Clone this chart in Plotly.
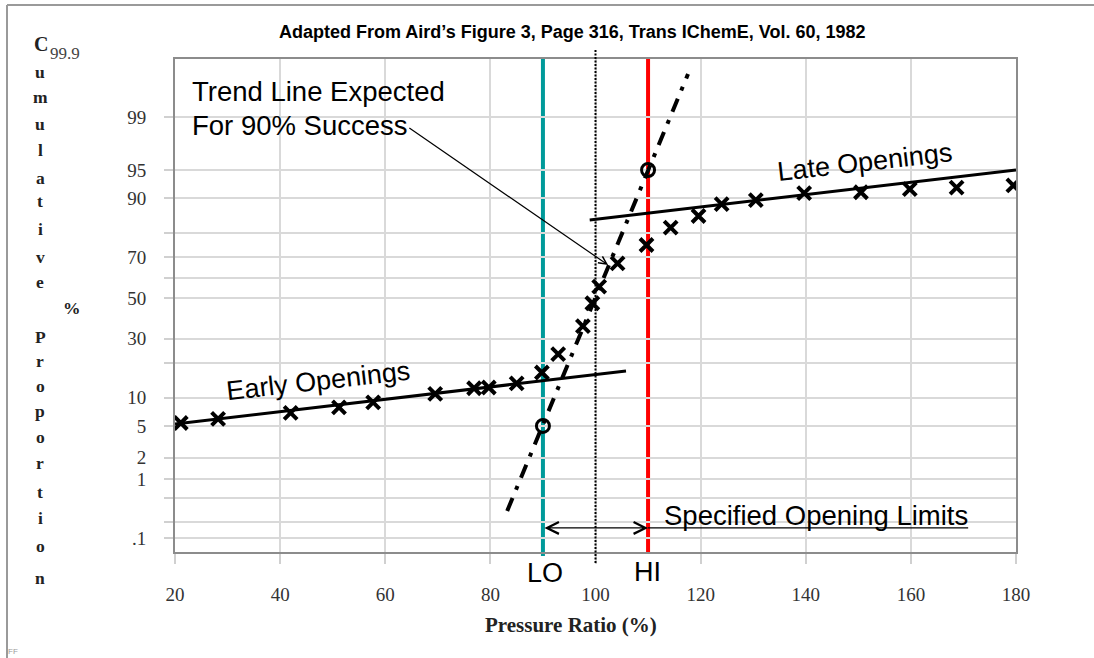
import plotly.graph_objects as go
from statistics import NormalDist

_nd = NormalDist()


def z(p):
    return _nd.inv_cdf(p / 100.0)


# ---------------- data ----------------
open_x = [21.1, 28.2, 42.0, 51.2, 57.7, 69.5, 76.9, 79.7, 85.0, 89.8,
          92.9, 97.6, 99.4, 100.7, 104.2, 109.7,
          114.3, 119.6, 124.0, 130.5, 139.7, 150.5, 159.8, 168.7, 179.5]
open_p = [5.4, 6.0, 7.0, 8.0, 9.0, 10.9, 12.3, 12.5, 13.6, 16.9,
          23.5, 35.9, 47.3, 55.8, 67.2, 75.2,
          81.7, 85.4, 88.6, 89.6, 91.1, 91.3, 91.9, 92.2, 92.6]

limit_x = [90, 110]          # LO / HI circles
limit_p = [5, 95]

early_fit_x = [20, 105.8]
early_fit_p = [5.27, 17.4]
late_fit_x = [98.9, 180]
late_fit_p = [84.2, 95.0]
trend_x = [83.2, 117.6]
trend_p = [0.31, 99.80]

LO, HI, NOMINAL = 90, 110, 100

x_ticks = [20, 40, 60, 80, 100, 120, 140, 160, 180]
y_grid_p = [99, 95, 90, 80, 70, 60, 50, 30, 20, 10, 5, 2, 1, 0.5, 0.2, 0.1]
y_grid_labels = ["99", "95", "90", "", "70", "", "50", "30", "", "10", "5", "2", "1", "", "", ".1"]

# ---------------- layout helpers ----------------
W, H = 1094, 658
L, R, T, B = 175, 1016, 59, 552


def px(xp):
    return (xp - L) / (R - L)


def py(yp):
    return (B - yp) / (B - T)


SERIF = "Liberation Serif"
SANS = "Liberation Sans"

fig = go.Figure()

# fit lines
fig.add_trace(go.Scatter(x=early_fit_x, y=[z(p) for p in early_fit_p], mode="lines",
                         line=dict(color="black", width=3), hoverinfo="skip", showlegend=False))
fig.add_trace(go.Scatter(x=late_fit_x, y=[z(p) for p in late_fit_p], mode="lines",
                         line=dict(color="black", width=3), hoverinfo="skip", showlegend=False))
fig.add_trace(go.Scatter(x=trend_x, y=[z(p) for p in trend_p], mode="lines",
                         line=dict(color="black", width=4, dash="14px,9px,4px,9px"),
                         hoverinfo="skip", showlegend=False))
# data marks
fig.add_trace(go.Scatter(x=open_x, y=[z(p) for p in open_p], mode="markers",
                         marker=dict(symbol="x-thin", size=13, color="black",
                                     line=dict(color="black", width=4)),
                         showlegend=False))
fig.add_trace(go.Scatter(x=limit_x, y=[z(p) for p in limit_p], mode="markers",
                         marker=dict(symbol="circle-open", size=13, color="black",
                                     line=dict(color="black", width=3)),
                         showlegend=False))

shapes = [
    dict(type="line", xref="x", yref="paper", x0=LO, x1=LO, y0=py(556), y1=1.0,
         line=dict(color="#009A9A", width=4), layer="between"),
    dict(type="line", xref="x", yref="paper", x0=HI, x1=HI, y0=0, y1=py(57),
         line=dict(color="#FF0000", width=4), layer="between"),
    dict(type="line", xref="x", yref="paper", x0=NOMINAL, x1=NOMINAL, y0=py(563), y1=py(49),
         line=dict(color="black", width=2, dash="2px,1.5px"), layer="above"),
    # underline of "Specified Opening Limits"
    dict(type="line", xref="x", yref="y", x0=HI, x1=170.9, y0=z(0.156), y1=z(0.156),
         line=dict(color="black", width=1.3)),
    # outer frame
    dict(type="line", xref="paper", yref="paper", x0=px(7), x1=px(1094), y0=py(5), y1=py(5),
         line=dict(color="#9a9a9a", width=2)),
    dict(type="line", xref="paper", yref="paper", x0=px(7), x1=px(7), y0=py(658), y1=py(5),
         line=dict(color="#9a9a9a", width=2)),
]

ann = []


def txt(xp, yp, text, size, family=SANS, color="black", xanchor="center", angle=0, align="center"):
    ann.append(dict(xref="paper", yref="paper", x=px(xp), y=py(yp), xanchor=xanchor, yanchor="middle",
                    showarrow=False, text=text, textangle=angle, align=align,
                    font=dict(family=family, size=size, color=color)))


# title
txt(572, 32, "<b>Adapted From Aird’s Figure 3, Page 316, Trans IChemE, Vol. 60, 1982</b>", 18)
# trend text
txt(190, 92, "Trend Line Expected", 27.5, xanchor="left")
txt(190, 125, "For 90% Success", 27.5, xanchor="left")
# trend arrow
ann.append(dict(x=102.4, y=z(66.4), ax=64.3, ay=z(98.6), xref="x", yref="y", axref="x", ayref="y",
                text="", showarrow=True, arrowhead=5, arrowsize=1.3, arrowwidth=1.2, arrowcolor="black"))
# early / late labels
txt(318, 381, "Early Openings", 27, angle=-6.5)
txt(865, 162, "Late Openings", 27, angle=-6.5)
# double arrow between limits
ann.append(dict(x=HI, y=z(0.156), ax=LO, ay=z(0.156), xref="x", yref="y", axref="x", ayref="y",
                text="", showarrow=True, arrowside="end+start", arrowhead=5, startarrowhead=5,
                arrowsize=1.8, startarrowsize=1.8, arrowwidth=1.3, arrowcolor="black"))
txt(662, 515, "Specified Opening Limits", 27.5, xanchor="left")
txt(545, 573, "LO", 27)
txt(647, 572, "HI", 27)
# x-axis title
txt(571, 625, "<b>Pressure Ratio (%)</b>", 21, family=SERIF, color="#222")
# y-axis title, letter by letter
letters = ["u", "m", "u", "l", "a", "t", "i", "v", "e",
           "P", "r", "o", "p", "o", "r", "t", "i", "o", "n"]
letter_y = [72, 97, 124, 150, 178, 201, 229, 257, 282,
            337, 361, 386, 411, 437, 463, 492, 518, 546, 578]
txt(41, 44, "<b>C</b>", 20, family=SERIF, color="#222")
txt(48, 53, "99.9", 17, family=SERIF, color="#444", xanchor="left")
for ch, yy in zip(letters, letter_y):
    txt(40, yy, "<b>%s</b>" % ch, 17.5, family=SERIF, color="#222")
txt(72, 308, "<b>%</b>", 17.5, family=SERIF, color="#222")
txt(13, 651, "FF", 8, color="#999")

fig.update_layout(
    width=W, height=H, autosize=False,
    margin=dict(l=L, r=W - R, t=T, b=H - B),
    paper_bgcolor="white", plot_bgcolor="white",
    shapes=shapes, annotations=ann, showlegend=False,
    xaxis=dict(range=[20, 180], tickvals=x_ticks, ticktext=[str(v) for v in x_ticks],
               showgrid=True, gridcolor="#d9d9d9", gridwidth=2,
               showline=True, linecolor="#8c8c8c", linewidth=2, mirror=True,
               ticks="outside", ticklen=10, tickcolor="#d0d0d0", tickwidth=2,
               ticklabelstandoff=14,
               tickfont=dict(family=SERIF, size=19, color="#333"), zeroline=False),
    yaxis=dict(range=[-3.265, 3.072], tickvals=[z(p) for p in y_grid_p], ticktext=y_grid_labels,
               showgrid=True, gridcolor="#d9d9d9", gridwidth=2,
               showline=True, linecolor="#8c8c8c", linewidth=2, mirror=True,
               ticks="outside", ticklen=9, tickcolor="#d0d0d0", tickwidth=2,
               ticklabelstandoff=14,
               tickfont=dict(family=SERIF, size=19, color="#333"), zeroline=False),
)

fig.write_html("out.html", config={"displayModeBar": False},
               post_script="document.body.style.margin='0px';")
